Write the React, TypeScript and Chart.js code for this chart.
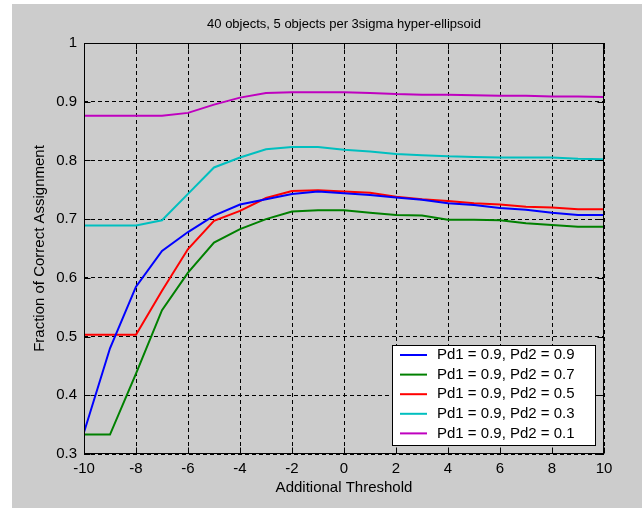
import React, { useEffect, useRef } from 'react';
import { Chart, registerables } from 'chart.js';

Chart.register(...registerables);

// ---- data ----
const thresholds = [-10, -9, -8, -7, -6, -5, -4, -3, -2, -1, 0, 1, 2, 3, 4, 5, 6, 7, 8, 9, 10];

const pd2_09 = [0.337, 0.48, 0.585, 0.646, 0.678, 0.706, 0.725, 0.734, 0.743, 0.747, 0.744, 0.741, 0.737, 0.733, 0.727, 0.724, 0.719, 0.716, 0.711, 0.707, 0.707];
const pd2_07 = [0.333, 0.333, 0.437, 0.545, 0.609, 0.66, 0.683, 0.7, 0.713, 0.715, 0.715, 0.711, 0.707, 0.706, 0.699, 0.699, 0.698, 0.693, 0.69, 0.687, 0.687];
const pd2_05 = [0.503, 0.503, 0.503, 0.578, 0.649, 0.697, 0.714, 0.736, 0.748, 0.749, 0.747, 0.745, 0.738, 0.734, 0.731, 0.727, 0.725, 0.721, 0.72, 0.717, 0.717];
const pd2_03 = [0.689, 0.689, 0.689, 0.698, 0.743, 0.788, 0.805, 0.819, 0.823, 0.823, 0.818, 0.815, 0.811, 0.809, 0.807, 0.806, 0.805, 0.805, 0.805, 0.803, 0.802];
const pd2_01 = [0.876, 0.876, 0.876, 0.876, 0.881, 0.895, 0.907, 0.915, 0.916, 0.916, 0.916, 0.915, 0.913, 0.912, 0.912, 0.911, 0.91, 0.91, 0.909, 0.909, 0.908];

const seriesValues = [pd2_09, pd2_07, pd2_05, pd2_03, pd2_01];
const seriesLabels = [
  'Pd1 = 0.9, Pd2 = 0.9',
  'Pd1 = 0.9, Pd2 = 0.7',
  'Pd1 = 0.9, Pd2 = 0.5',
  'Pd1 = 0.9, Pd2 = 0.3',
  'Pd1 = 0.9, Pd2 = 0.1',
];
const seriesColors = ['#0000ff', '#008000', '#ff0000', '#00bfbf', '#bf00bf'];

const xTicks = [-10, -8, -6, -4, -2, 0, 2, 4, 6, 8, 10];
const xTickLabels = ['-10', '-8', '-6', '-4', '-2', '0', '2', '4', '6', '8', '10'];
const yTicks = [0.3, 0.4, 0.5, 0.6, 0.7, 0.8, 0.9, 1.0];
const yTickLabels = ['0.3', '0.4', '0.5', '0.6', '0.7', '0.8', '0.9', '1'];

const titleText = '40 objects, 5 objects per 3sigma hyper-ellipsoid';
const xTitle = 'Additional Threshold';
const yTitle = 'Fraction of Correct Assignment';

const FONT = '"Liberation Sans", Arial, Helvetica, sans-serif';

const framePlugin = {
  id: 'matlabFrame',
  afterDraw(chart: any) {
    const { ctx, chartArea } = chart;
    const { left, right, top, bottom } = chartArea;
    const xs = chart.scales.x;
    const ys = chart.scales.y;
    ctx.save();
    ctx.setLineDash([]);
    ctx.strokeStyle = '#000';
    ctx.lineWidth = 1;
    const L = Math.round(left) + 0.5;
    const R = Math.round(right) - 0.5;
    const T = Math.round(top) + 0.5;
    const B = Math.round(bottom) - 0.5;
    ctx.strokeRect(L, T, R - L, B - T);
    // inward ticks
    const tl = 6;
    ctx.beginPath();
    xTicks.forEach((v) => {
      const px = Math.round(xs.getPixelForValue(v)) + 0.5;
      ctx.moveTo(px, B);
      ctx.lineTo(px, B - tl);
      ctx.moveTo(px, T);
      ctx.lineTo(px, T + tl);
    });
    yTicks.forEach((v) => {
      const py = Math.round(ys.getPixelForValue(v)) + 0.5;
      ctx.moveTo(L, py);
      ctx.lineTo(L + tl, py);
      ctx.moveTo(R, py);
      ctx.lineTo(R - tl, py);
    });
    ctx.stroke();

    // title
    ctx.fillStyle = '#000';
    ctx.font = `13px ${FONT}`;
    ctx.textAlign = 'center';
    ctx.textBaseline = 'middle';
    ctx.fillText(titleText, (left + right) / 2, 24);

    // legend
    const lw = 203;
    const lh = 100;
    const lx = Math.round(right) - 9 - lw;
    const ly = Math.round(bottom) - 9 - lh;
    ctx.fillStyle = '#fff';
    ctx.fillRect(lx, ly, lw, lh);
    ctx.strokeStyle = '#000';
    ctx.lineWidth = 1;
    ctx.strokeRect(lx + 0.5, ly + 0.5, lw, lh);
    ctx.font = `15px ${FONT}`;
    ctx.textAlign = 'left';
    ctx.textBaseline = 'middle';
    seriesLabels.forEach((lab, i) => {
      const yy = ly + 10 + i * 19.6;
      ctx.strokeStyle = seriesColors[i];
      ctx.lineWidth = 2;
      ctx.beginPath();
      ctx.moveTo(lx + 8, yy);
      ctx.lineTo(lx + 35, yy);
      ctx.stroke();
      ctx.fillStyle = '#000';
      ctx.fillText(lab, lx + 45, yy);
    });
    ctx.restore();
  },
};

export default function App() {
  const ref = useRef<HTMLCanvasElement | null>(null);

  useEffect(() => {
    document.body.style.margin = '0';
    const canvas = ref.current;
    if (!canvas) return;
    const chart = new Chart(canvas, {
      type: 'line',
      data: {
        datasets: seriesValues.map((vals, i) => ({
          label: seriesLabels[i],
          data: thresholds.map((x, j) => ({ x, y: vals[j] })),
          borderColor: seriesColors[i],
          backgroundColor: seriesColors[i],
          borderWidth: 2,
          pointRadius: 0,
          tension: 0,
          fill: false,
        })),
      },
      options: {
        animation: false,
        responsive: false,
        devicePixelRatio: 1,
        layout: { padding: { top: 43, right: 38, bottom: 0, left: 0 } },
        plugins: {
          legend: { display: false },
          title: { display: false },
          tooltip: { enabled: false },
        },
        scales: {
          x: {
            type: 'linear',
            min: -10,
            max: 10,
            afterBuildTicks: (s: any) => {
              s.ticks = xTicks.map((v) => ({ value: v }));
            },
            afterFit: (s: any) => {
              s.height = 54;
            },
            ticks: {
              callback: (_v: any, i: number) => xTickLabels[i],
              color: '#000',
              font: { family: FONT, size: 15 },
              padding: 6,
              maxRotation: 0,
              autoSkip: false,
            },
            grid: { color: '#000', lineWidth: 1, drawTicks: false },
            border: { display: false, dash: [4, 3] },
            title: {
              display: true,
              text: xTitle,
              color: '#000',
              font: { family: FONT, size: 15 },
              padding: { top: 0, bottom: 11 },
            },
          },
          y: {
            type: 'linear',
            min: 0.3,
            max: 1,
            afterBuildTicks: (s: any) => {
              s.ticks = yTicks.map((v) => ({ value: v }));
            },
            afterFit: (s: any) => {
              s.width = 84;
            },
            ticks: {
              callback: (_v: any, i: number) => yTickLabels[i],
              color: '#000',
              font: { family: FONT, size: 15 },
              padding: 7,
              autoSkip: false,
            },
            grid: { color: '#000', lineWidth: 1, drawTicks: false },
            border: { display: false, dash: [4, 3] },
            title: {
              display: true,
              text: yTitle,
              color: '#000',
              font: { family: FONT, size: 15 },
              padding: { top: 31, bottom: 0 },
            },
          },
        },
      },
      plugins: [framePlugin],
    } as any);
    return () => chart.destroy();
  }, []);

  return (
    <div style={{ position: 'relative', width: 642, height: 508, background: '#ffffff', overflow: 'hidden' }}>
      <div style={{ position: 'absolute', left: 12, top: 4, right: 0, bottom: 0, background: '#cccccc' }} />
      <canvas ref={ref} width={642} height={508} style={{ position: 'absolute', left: 0, top: 0, width: 642, height: 508 }} />
    </div>
  );
}
